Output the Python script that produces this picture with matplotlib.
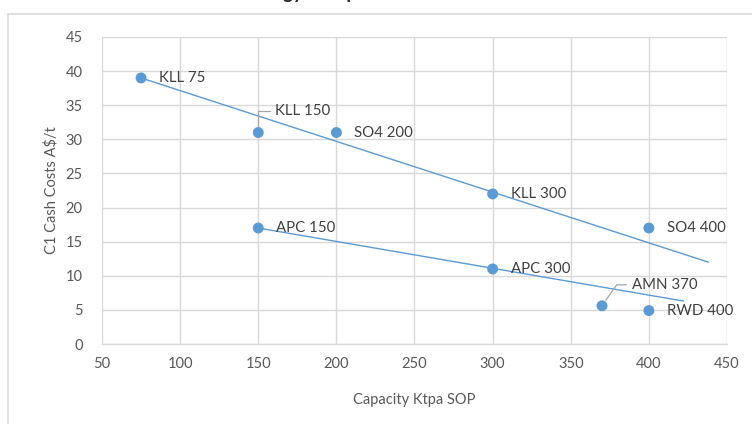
import matplotlib.pyplot as plt
from matplotlib.lines import Line2D

# ---- data ----
LABELS = ["KLL 75", "KLL 150", "SO4 200", "KLL 300", "SO4 400",
          "APC 150", "APC 300", "AMN 370", "RWD 400"]
CAPACITY = [75, 150, 200, 300, 400, 150, 300, 370, 400]
C1_COST = [39, 31, 31, 22, 17, 17, 11, 5.6, 4.9]

# linear trend lines (start / end points)
TREND_UPPER_X = [75, 438]
TREND_UPPER_Y = [39, 12]
TREND_LOWER_X = [150, 422]
TREND_LOWER_Y = [17, 6.3]

BLUE = "#5b9bd5"
GRID = "#d9d9d9"
TXT = "#595959"
LBL = "#404040"

plt.rcParams["font.family"] = ["Lato", "DejaVu Sans"]

fig = plt.figure(figsize=(7.52, 4.24), dpi=100)
ax = fig.add_axes([102 / 752, 1 - 344 / 424, 625 / 752, 307 / 424])

ax.plot(TREND_UPPER_X, TREND_UPPER_Y, color=BLUE, lw=1.0, zorder=3)
ax.plot(TREND_LOWER_X, TREND_LOWER_Y, color=BLUE, lw=1.0, zorder=3)
ax.scatter(CAPACITY, C1_COST, s=62, color=BLUE, edgecolors="none", zorder=4)

# label offsets in pixels; leader lines for the two shifted labels
offsets = {
    "KLL 150": (17, 22),
    "AMN 370": (30, 21),
}
for lab, x, y in zip(LABELS, CAPACITY, C1_COST):
    dx, dy = offsets.get(lab, (18, 0))
    if lab in offsets:
        ax.annotate(lab, xy=(x, y), xytext=(dx, dy), textcoords="offset pixels",
                    fontsize=10.8, color=LBL, va="center", ha="left",
                    arrowprops=dict(arrowstyle="-", color="#a6a6a6", lw=0.9,
                                    shrinkA=2, shrinkB=5,
                                    connectionstyle="angle,angleA=0,angleB=90,rad=0"
                                    if lab == "KLL 150" else
                                    "angle,angleA=0,angleB=55,rad=0"),
                    zorder=5)
    else:
        ax.annotate(lab, xy=(x, y), xytext=(dx, dy), textcoords="offset pixels",
                    fontsize=10.8, color=LBL, va="center", ha="left", zorder=5)

ax.set_xlim(50, 450)
ax.set_ylim(0, 45)
ax.set_xticks(range(50, 451, 50))
ax.set_yticks(range(0, 46, 5))
ax.grid(True, color=GRID, lw=1.0)
ax.set_axisbelow(True)
for side in ["top", "right", "left"]:
    ax.spines[side].set_visible(False)
ax.spines["bottom"].set_color(GRID)
ax.spines["bottom"].set_linewidth(1.0)
ax.tick_params(length=0, labelsize=10.5, labelcolor=TXT, pad=9)
ax.tick_params(axis="y", pad=14)

ax.set_xlabel("Capacity Ktpa SOP", fontsize=10.5, color=TXT, labelpad=16)
ax.set_ylabel("C1 Cash Costs A$/t", fontsize=10.5, color=TXT, labelpad=5)

# chart area border
fig.add_artist(Line2D([8 / 752, 8 / 752], [0, 1 - 14 / 424], color=GRID, lw=1.2))
fig.add_artist(Line2D([8 / 752, 1], [1 - 14 / 424, 1 - 14 / 424], color=GRID, lw=1.2))

# chart title, its baseline just above the top edge
fig.text(232 / 752, 1 + 1 / 424, "Strategy Comparison", fontsize=13.5, fontweight="bold",
         color="#262626", ha="left", va="baseline")

fig.savefig("out.png", dpi=100)
